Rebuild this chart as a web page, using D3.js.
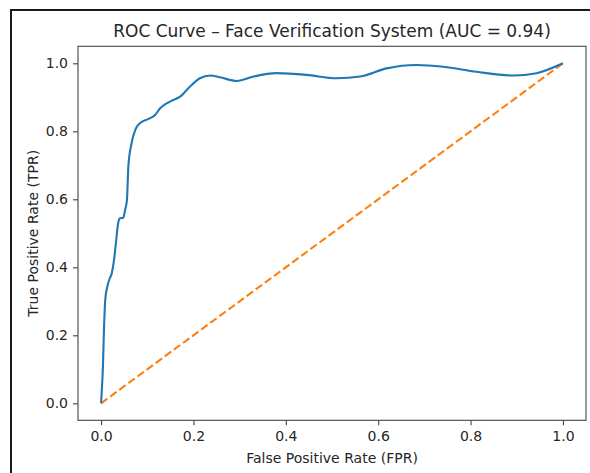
<html>
<head>
  <title>ROC Curve</title>
  <style>
    body { margin: 0; background: #fff; }
    text { font-family: "DejaVu Sans", sans-serif; fill: #262626; }
  </style>
</head>
<body>
<script src="https://d3js.org/d3.v7.min.js"></script>
<script>
// ROC points
var fpr = [0, 0.002, 0.004, 0.006, 0.009, 0.013, 0.018, 0.023, 0.028, 0.032, 0.037, 0.041,
           0.048, 0.052, 0.056, 0.059, 0.066, 0.074, 0.084, 0.102, 0.117, 0.128, 0.142, 0.156,
           0.171, 0.192, 0.214, 0.236, 0.257, 0.294, 0.33, 0.38, 0.445, 0.51, 0.561, 0.618,
           0.683, 0.741, 0.813, 0.892, 0.943, 1.0];
var tpr = [0, 0.05, 0.108, 0.206, 0.304, 0.34, 0.365, 0.382, 0.421, 0.47, 0.53, 0.544,
           0.546, 0.569, 0.598, 0.696, 0.765, 0.804, 0.824, 0.836, 0.848, 0.868, 0.882, 0.892,
           0.902, 0.931, 0.956, 0.964, 0.959, 0.948, 0.961, 0.971, 0.966, 0.956, 0.961, 0.985,
           0.995, 0.99, 0.975, 0.964, 0.971, 1.0];
var chance = [0, 1];
var xTicks = [0, 0.2, 0.4, 0.6, 0.8, 1.0];
var yTicks = [0, 0.2, 0.4, 0.6, 0.8, 1.0];

var w = 590, h = 473;
var padL = 78, padR = 586, padT = 46.3, padB = 420.3;

var svg = d3.select("body").append("svg")
    .attr("width", w)
    .attr("height", h);

// outer frame of the screenshot
svg.append("rect")
   .attr("x", 11).attr("y", 10)
   .attr("width", 700).attr("height", 600)
   .attr("fill", "none")
   .attr("stroke", "#1a1a1a")
   .attr("stroke-width", 2);

var x = d3.scaleLinear().domain([-0.05, 1.05]).range([padL, padR]);
var y = d3.scaleLinear().domain([-0.05, 1.05]).range([padB, padT]);

var xAxis = d3.axisBottom(x).tickValues(xTicks).tickSize(5).tickPadding(6)
              .tickFormat(d3.format(".1f"));
var yAxis = d3.axisLeft(y).tickValues(yTicks).tickSize(5).tickPadding(5)
              .tickFormat(d3.format(".1f"));

var gx = svg.append("g").attr("transform", "translate(0," + padB + ")").call(xAxis);
var gy = svg.append("g").attr("transform", "translate(" + padL + ",0)").call(yAxis);
[gx, gy].forEach(function(g){
  g.select(".domain").remove();
  g.selectAll("line").attr("stroke", "#444").attr("stroke-width", 1.1);
  g.selectAll("text").style("font-family", "DejaVu Sans").style("font-size", "14px")
   .attr("fill", "#262626");
});

// chance line
var line = d3.line().x(function(d){ return x(d); }).y(function(d){ return y(d); });
svg.append("path")
   .datum(chance)
   .attr("d", line)
   .attr("fill", "none")
   .attr("stroke", "#ff7f0e")
   .attr("stroke-width", 2.1)
   .attr("stroke-dasharray", "7.9,3.4");

// roc curve
var roc = d3.line()
    .x(function(d, i){ return x(fpr[i]); })
    .y(function(d, i){ return y(tpr[i]); })
    .curve(d3.curveMonotoneX);
svg.append("path")
   .datum(fpr)
   .attr("d", roc)
   .attr("fill", "none")
   .attr("stroke", "#1f77b4")
   .attr("stroke-width", 2.1)
   .attr("stroke-linejoin", "round");

// spines
svg.append("rect")
   .attr("x", padL).attr("y", padT)
   .attr("width", padR - padL).attr("height", padB - padT)
   .attr("fill", "none")
   .attr("stroke", "#444")
   .attr("stroke-width", 1.1);

svg.append("text")
   .attr("x", (padL + padR) / 2).attr("y", 37)
   .attr("text-anchor", "middle")
   .style("font-size", "17px")
   .text("ROC Curve \u2013 Face Verification System (AUC = 0.94)");

svg.append("text")
   .attr("x", (padL + padR) / 2).attr("y", 463)
   .attr("text-anchor", "middle")
   .style("font-size", "14px")
   .text("False Positive Rate (FPR)");

svg.append("text")
   .attr("transform", "translate(38," + ((padT + padB) / 2) + ") rotate(-90)")
   .attr("text-anchor", "middle")
   .style("font-size", "14px")
   .text("True Positive Rate (TPR)");
</script>
</body>
</html>
